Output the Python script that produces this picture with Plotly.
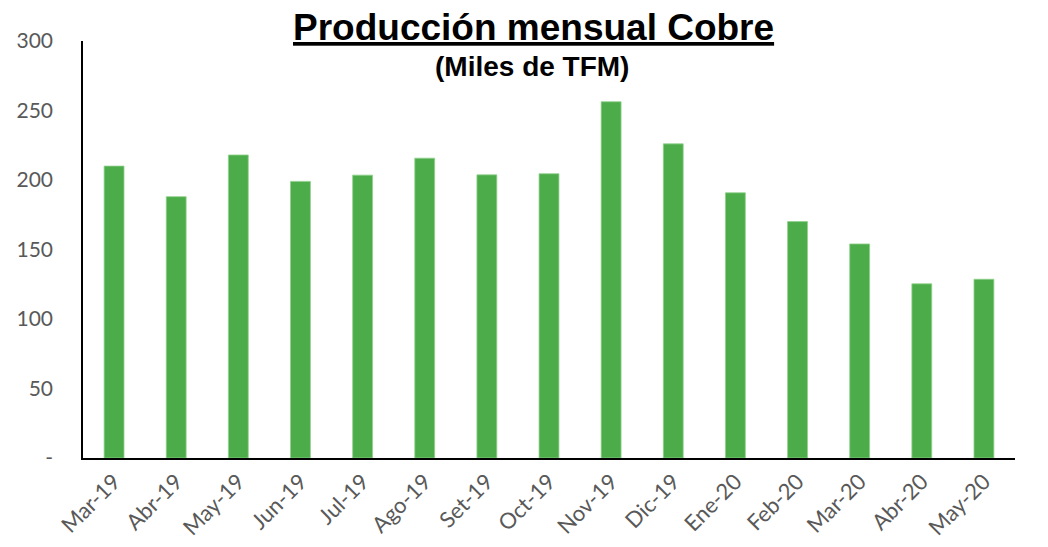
import plotly.graph_objects as go

months = ["Mar-19", "Abr-19", "May-19", "Jun-19", "Jul-19", "Ago-19", "Set-19", "Oct-19",
          "Nov-19", "Dic-19", "Ene-20", "Feb-20", "Mar-20", "Abr-20", "May-20"]
production = [210, 188, 218, 199, 203.5, 215.7, 203.7, 204.5, 256.3, 226, 190.8, 170.1, 154, 125.3, 128.6]
ytick_vals = [0, 50, 100, 150, 200, 250, 300]
ytick_text = ["-", "50", "100", "150", "200", "250", "300"]
title_text = "Producción mensual Cobre"
subtitle_text = "(Miles de TFM)"

W, H = 1048, 547
ML, MR, MT, MB = 83, 33, 41, 89
plot_h = H - MT - MB
plot_w = W - ML - MR


def px_to_paper_x(px):
    return (px - ML) / plot_w


def px_to_paper_y(py):
    return (H - MB - py) / plot_h


fig = go.Figure()
fig.add_trace(go.Bar(
    x=months, y=production,
    marker=dict(color="#4DAC4A", line=dict(color="#8FD08B", width=0.8)),
))

y_tick_font = dict(family="Lato, Open Sans, sans-serif", size=21, color="#595959")
x_tick_font = dict(family="Lato, Open Sans, sans-serif", size=22, color="#595959")

fig.update_layout(
    width=W, height=H,
    paper_bgcolor="white", plot_bgcolor="white",
    margin=dict(l=ML, r=MR, t=MT, b=MB, autoexpand=False),
    bargap=0.68,
    showlegend=False,
    xaxis=dict(
        showline=True, linecolor="black", linewidth=2,
        ticks="", tickangle=-45, tickfont=x_tick_font,
        showgrid=False, automargin=False,
    ),
    yaxis=dict(
        range=[0, 300], tickvals=ytick_vals, ticktext=ytick_text,
        showline=True, linecolor="black", linewidth=1.5,
        ticks="", tickfont=y_tick_font, showgrid=False, zeroline=False,
        ticklabelstandoff=24, automargin=False,
    ),
    annotations=[
        dict(text="<b><u>" + title_text + "</u></b>",
             x=px_to_paper_x(533.5), y=px_to_paper_y(27.5), xref="paper", yref="paper",
             xanchor="center", yanchor="middle", showarrow=False,
             font=dict(family="Liberation Sans, Arial", size=37, color="black")),
        dict(text="<b>" + subtitle_text + "</b>",
             x=px_to_paper_x(532), y=px_to_paper_y(67), xref="paper", yref="paper",
             xanchor="center", yanchor="middle", showarrow=False,
             font=dict(family="Liberation Sans, Arial", size=28, color="black")),
    ],
)

fig.write_html(
    "out.html",
    config={"displayModeBar": False},
    post_script="document.body.style.margin='0';document.body.style.overflow='hidden';",
)
